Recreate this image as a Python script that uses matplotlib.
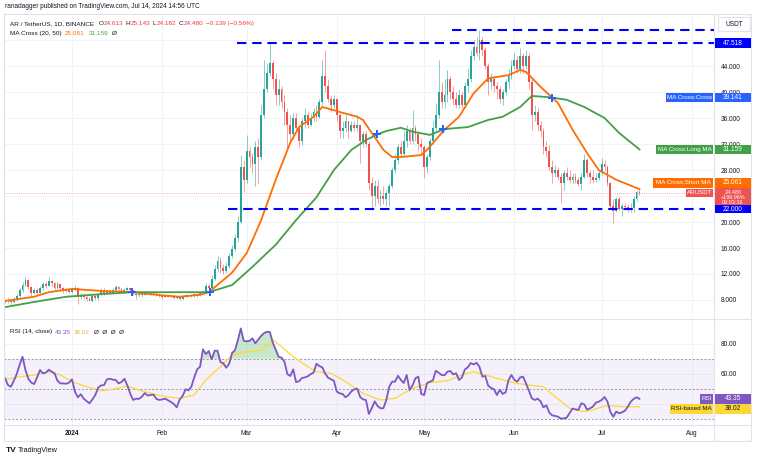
import numpy as np
import matplotlib
matplotlib.use("Agg")
import matplotlib.pyplot as plt
import matplotlib.dates as mdates
from matplotlib.patches import Rectangle
from matplotlib.lines import Line2D
from matplotlib.transforms import IdentityTransform

plt.rcParams["font.family"] = ["Liberation Sans", "DejaVu Sans"]

W, H = 757, 459
START = np.datetime64("2023-12-10")   # day 0

# ----------------------------------------------------------------------
# Daily candles, Dec 9 2023 (day -1) .. Jul 14 2024 (day 217)
# ----------------------------------------------------------------------
first_open = 7.7
close = [
    7.9, 8.0, 7.7, 8.1, 8.6, 9.6, 10.3, 11.0, 10.0, 9.0,
    9.5, 9.1, 9.8, 10.4, 10.2, 10.9, 10.6, 9.9, 10.4, 9.8,
    9.4, 9.6, 9.3, 9.7, 9.8, 8.5, 8.8, 8.4, 8.2, 7.9,
    8.6, 8.3, 8.9, 9.4, 9.0, 9.3, 9.1, 9.6, 10.0, 9.7,
    9.3, 9.6, 9.8, 9.5, 8.9, 8.7, 8.9, 8.8, 9.1, 9.0,
    8.9, 9.0, 8.8, 8.6, 8.5, 8.6, 8.5, 8.4, 8.3, 8.4,
    8.2, 8.5, 8.7, 8.6, 8.7, 8.9, 8.7, 9.0, 9.3, 10.2,
    9.9, 11.2, 12.8, 14.0, 13.0, 12.5, 13.2, 14.8, 15.8, 17.6,
    20.0, 28.5, 26.5, 31.0, 30.0, 29.0, 31.5, 30.0, 36.5, 40.5,
    43.0, 44.5, 42.0, 39.5, 40.5, 38.5, 37.0, 35.0, 33.5, 36.0,
    34.5, 32.5, 35.5, 36.5, 35.0, 36.0, 37.0, 36.2, 38.5, 42.5,
    41.0, 39.0, 38.0, 39.0, 36.5, 34.0, 34.5, 35.5, 34.0, 35.0,
    34.5, 35.0, 32.5, 33.5, 32.0, 26.0, 24.0, 25.5, 23.5, 24.0,
    23.5, 24.5, 25.5, 28.0, 29.5, 31.5, 30.5, 32.5, 34.0, 32.5,
    34.5, 33.5, 32.0, 31.5, 28.5, 30.0, 32.5, 34.5, 36.5, 40.0,
    38.5, 39.5, 42.0, 40.0, 39.0, 38.0, 39.5, 38.0, 41.0, 42.0,
    45.5, 47.0, 46.0, 48.0, 46.5, 44.0, 41.5, 42.0, 41.0, 40.5,
    39.0, 40.0, 41.5, 42.5, 44.0, 45.0, 43.5, 45.5, 44.0, 45.5,
    41.5, 36.5, 37.0, 35.0, 34.0, 31.5, 31.0, 28.5, 27.5, 28.0,
    27.0, 26.0, 27.5, 27.0, 26.5, 27.0, 26.5, 25.8, 27.0, 29.5,
    27.5, 27.0, 26.5, 26.8, 27.5, 29.0, 28.5, 26.0, 22.5, 21.7,
    23.5, 22.0, 22.5, 22.3, 22.0, 22.2, 23.5, 24.613, 24.48,
]
high = [
    8.2, 8.3, 8.1, 8.4, 8.9, 9.9, 10.8, 11.6, 11.2, 10.1,
    9.9, 9.8, 10.1, 10.7, 10.8, 11.5, 11.1, 10.8, 10.7, 10.5,
    10.0, 9.9, 9.8, 9.9, 10.3, 10.0, 9.0, 9.0, 8.6, 8.4,
    8.8, 8.9, 9.1, 9.8, 9.9, 9.5, 9.6, 9.9, 10.3, 10.2,
    9.9, 9.8, 10.0, 9.9, 9.6, 9.0, 9.1, 9.0, 9.3, 9.2,
    9.2, 9.1, 9.2, 9.0, 8.7, 8.8, 8.7, 8.6, 8.6, 8.5,
    8.5, 8.7, 8.9, 8.8, 8.9, 9.1, 9.1, 9.2, 9.6, 10.6,
    10.5, 11.8, 13.4, 14.8, 14.6, 13.6, 13.8, 15.3, 16.5, 18.2,
    21.0, 30.3, 29.5, 33.4, 31.5, 30.6, 32.5, 33.0, 38.0, 44.9,
    44.5, 47.5, 45.0, 43.0, 42.0, 41.0, 39.5, 37.5, 36.5, 36.8,
    36.8, 35.0, 36.0, 37.5, 37.0, 36.8, 37.5, 38.0, 39.0, 45.0,
    46.5, 42.0, 39.5, 39.5, 39.0, 36.8, 35.5, 36.5, 35.5, 35.5,
    35.5, 36.5, 35.0, 34.0, 34.0, 32.5, 27.0, 26.5, 26.5, 25.0,
    25.5, 25.0, 26.0, 28.5, 30.5, 32.0, 32.5, 34.0, 35.0, 34.5,
    37.2, 35.0, 34.0, 33.0, 31.8, 30.5, 33.0, 35.5, 38.3, 44.9,
    41.5, 42.0, 43.4, 42.5, 41.0, 40.0, 40.5, 40.0, 41.5, 43.5,
    46.5, 48.0, 48.5, 49.5, 48.5, 47.0, 44.5, 43.0, 42.5, 41.5,
    41.0, 40.5, 42.0, 43.5, 45.0, 46.0, 45.5, 46.8, 46.0, 46.5,
    46.0, 42.0, 38.0, 37.7, 35.5, 34.5, 32.5, 31.8, 29.5, 28.8,
    28.5, 27.5, 28.0, 28.5, 28.0, 27.5, 27.5, 27.0, 27.5, 30.5,
    29.8, 28.0, 28.0, 27.5, 28.0, 29.8, 29.5, 28.8, 26.2, 23.5,
    23.8, 23.8, 23.0, 23.0, 22.8, 23.0, 24.0, 25.0, 25.143,
]
low = [
    7.6, 7.6, 7.3, 7.6, 7.9, 8.5, 9.3, 10.1, 9.7, 8.6,
    8.9, 8.8, 9.0, 9.6, 9.9, 10.1, 10.2, 9.6, 9.7, 9.6,
    9.0, 9.2, 9.1, 9.1, 9.4, 7.4, 8.2, 8.1, 7.9, 7.8,
    7.7, 8.0, 8.0, 8.8, 8.7, 8.9, 8.9, 9.0, 9.4, 9.4,
    9.1, 9.1, 9.4, 9.3, 8.7, 8.2, 8.5, 8.5, 8.7, 8.8,
    8.7, 8.7, 8.6, 8.5, 8.2, 8.4, 8.4, 8.3, 8.1, 8.1,
    8.0, 8.1, 8.4, 8.5, 8.5, 8.5, 8.5, 8.6, 8.9, 9.2,
    9.5, 9.8, 11.0, 12.3, 12.2, 12.0, 12.1, 13.0, 14.5, 15.5,
    17.0, 19.8, 24.6, 26.0, 28.5, 27.5, 25.5, 26.0, 29.5, 36.0,
    40.0, 42.5, 40.5, 38.0, 38.0, 37.5, 35.0, 31.4, 32.5, 32.8,
    33.8, 31.5, 31.8, 34.5, 34.5, 34.8, 35.5, 35.5, 36.0, 38.0,
    40.0, 38.5, 37.0, 37.5, 35.5, 33.0, 33.0, 33.8, 33.0, 33.8,
    34.0, 34.0, 29.1, 31.5, 31.5, 25.0, 21.8, 22.5, 23.0, 22.5,
    22.8, 22.5, 22.5, 25.2, 27.5, 29.0, 30.0, 30.0, 31.5, 32.0,
    32.0, 32.5, 31.0, 30.5, 26.8, 27.5, 29.5, 32.0, 34.0, 36.0,
    37.5, 37.5, 38.5, 39.0, 38.0, 37.5, 37.5, 37.5, 37.5, 40.0,
    41.5, 45.0, 45.5, 45.0, 45.5, 43.5, 39.5, 40.5, 40.0, 39.0,
    38.3, 38.0, 39.5, 40.5, 42.0, 43.5, 43.0, 43.0, 43.0, 43.5,
    40.5, 34.2, 35.5, 34.0, 33.1, 30.5, 30.0, 28.0, 26.0, 27.0,
    26.5, 23.0, 25.0, 26.5, 26.0, 25.8, 26.0, 25.5, 25.0, 26.8,
    27.0, 26.0, 26.0, 26.2, 26.5, 27.3, 27.8, 25.5, 22.2, 19.8,
    21.5, 21.8, 21.0, 21.8, 21.5, 21.6, 21.5, 23.2, 24.182,
]
rsi = [
    57.0, 52.5, 51.4, 55.4, 59.8, 66.0, 71.3, 62.5, 56.7, 54.1,
    53.2, 57.6, 62.5, 60.3, 60.7, 62.7, 61.4, 60.3, 55.4, 53.6,
    53.6, 53.4, 54.1, 56.3, 48.1, 44.4, 46.4, 43.5, 41.9, 40.4,
    43.0, 45.9, 50.8, 52.3, 52.5, 56.3, 56.7, 56.1, 55.9, 53.6,
    54.5, 56.7, 52.3, 46.8, 42.6, 43.5, 43.3, 44.8, 47.2, 45.5,
    45.9, 46.1, 43.3, 42.6, 43.0, 43.5, 42.4, 41.3, 39.9, 37.7,
    43.0, 45.2, 49.7, 49.0, 51.4, 57.6, 62.9, 64.7, 76.2, 73.1,
    75.1, 69.6, 75.3, 75.3, 67.8, 66.9, 64.0, 66.7, 73.8, 75.7,
    82.4, 90.1, 81.9, 81.5, 81.9, 83.5, 80.2, 82.8, 85.2, 87.0,
    87.9, 87.7, 80.6, 76.0, 71.3, 70.7, 68.0, 59.8, 58.5, 62.9,
    54.5, 55.0, 57.2, 57.6, 58.3, 59.8, 60.7, 66.7, 65.1, 64.3,
    60.1, 57.4, 56.3, 55.4, 48.1, 47.0, 46.6, 44.4, 45.9, 48.3,
    49.7, 50.1, 44.6, 43.0, 42.6, 33.3, 37.1, 41.7, 38.6, 37.1,
    37.1, 42.6, 51.4, 54.8, 54.8, 58.7, 55.9, 53.9, 59.2, 49.2,
    52.3, 57.0, 58.1, 46.6, 45.9, 53.9, 54.8, 55.6, 62.0, 60.7,
    59.2, 59.0, 61.4, 61.8, 59.6, 60.3, 55.9, 57.6, 62.9, 64.3,
    67.1, 66.2, 67.3, 64.7, 58.1, 58.5, 52.1, 50.6, 49.7, 45.9,
    49.4, 46.6, 47.7, 55.9, 59.2, 55.9, 54.8, 57.6, 58.1, 53.6,
    48.8, 43.7, 42.6, 43.5, 41.7, 37.7, 39.1, 34.2, 32.4, 32.0,
    31.5, 30.2, 30.4, 30.9, 34.0, 36.9, 36.4, 36.0, 40.4, 39.7,
    36.2, 37.1, 38.2, 40.8, 41.5, 42.6, 44.6, 41.5, 34.6, 31.5,
    34.9, 33.8, 34.4, 35.5, 38.2, 41.5, 43.3, 44.4, 43.35,
]

# moving averages (day offsets from Dec 10 2023)
ma20_day = [-1, 9, 14, 22, 32, 43, 51, 59, 66, 69, 77, 82, 84, 87, 92, 97, 100,
            105, 108, 112, 115, 120, 122, 125, 129, 132, 135, 142, 144, 150, 155,
            160, 165, 172, 176, 178, 183, 189, 194, 199, 203, 209, 217]
ma20_val = [7.85, 8.5, 9.2, 9.7, 9.4, 9.2, 8.8, 8.5, 8.8, 9.2, 12.2, 15.2, 17.2,
            20.3, 26.5, 32.2, 34.6, 36.2, 37.7, 37.2, 36.8, 36.2, 35.7, 33.7, 31.1,
            30.0, 30.0, 30.3, 31.1, 34.2, 36.2, 39.8, 42.1, 42.6, 43.4, 43.1, 40.8,
            38.3, 34.2, 30.6, 28.0, 26.5, 25.061]
ma50_day = [-1, 9, 20, 32, 43, 51, 62, 69, 77, 84, 92, 99, 106, 112, 118, 123,
            127, 130, 135, 139, 145, 150, 158, 165, 170, 176, 180, 186, 192, 198,
            205, 210, 217]
ma50_val = [6.9, 7.7, 8.5, 8.9, 9.2, 9.2, 9.2, 9.2, 10.3, 13.1, 16.5, 20.3, 23.8,
            28.0, 31.1, 32.6, 33.5, 34.0, 34.5, 33.9, 33.4, 34.3, 34.6, 35.7, 36.2,
            37.7, 39.4, 39.2, 38.8, 37.7, 36.0, 33.7, 31.159]
cross_day = [42.6, 69.4, 126.8, 149.5, 186.8]
cross_val = [9.2, 9.2, 33.5, 34.3, 39.1]

rsima_day = [-1, 3, 9, 14, 18, 22, 27, 32, 36, 41, 45, 50, 54, 59, 64, 68, 73, 77,
             82, 87, 91, 94, 98, 103, 106, 111, 116, 122, 128, 133, 139, 145, 151,
             156, 160, 164, 170, 175, 179, 184, 188, 193, 198, 201, 205, 208, 211, 217]
rsima_val = [56.3, 57.6, 59.2, 61.4, 59.2, 54.8, 51.4, 48.8, 49.7, 51.9, 49.2, 46.6,
             44.8, 43.7, 45.9, 55.9, 64.7, 72.4, 74.6, 75.7, 82.4, 78.0, 71.3, 64.7,
             61.4, 60.3, 54.8, 47.0, 42.6, 43.7, 50.3, 54.1, 55.4, 59.2, 61.4, 59.2,
             55.9, 53.6, 52.5, 51.4, 44.8, 37.1, 34.9, 36.0, 38.6, 38.6, 38.2, 38.02]

# horizontal levels drawn on the chart: (price, first day, last day)
levels = [(49.5, 152.6, 243), (47.518, 78.7, 243), (22.0, 75.6, 239.5)]
LAST = 24.48

month_ticks = ["2024-01-01", "2024-02-01", "2024-03-01", "2024-04-01",
               "2024-05-01", "2024-06-01", "2024-07-01", "2024-08-01"]
month_labels = ["2024", "Feb", "Mar", "Apr", "May", "Jun", "Jul", "Aug"]
price_ticks = [8, 12, 16, 20, 24, 28, 32, 36, 40, 44, 48]
price_hidden = [24, 48]          # covered by the scale tags
rsi_ticks = [40, 60, 80]
rsi_hidden = [40]

# colours
UP, DOWN = "#26a69a", "#ef5350"
C_MA20, C_MA50, C_CROSS = "#ff6d00", "#43a047", "#2962ff"
C_LVL = "#0000ff"
C_RSI, C_RSIMA = "#7e57c2", "#fdd835"
C_TXT, C_BORDER, C_GRID = "#131722", "#e0e3eb", "#f0f3fa"

# ----------------------------------------------------------------------
fig = plt.figure(figsize=(W / 100, H / 100), dpi=100)
fig.patch.set_facecolor("white")
ID = IdentityTransform()


def dnum(d):
    return mdates.date2num(START) + np.asarray(d, dtype=float)


ax = fig.add_axes([4 / W, 1 - 318 / H, 710 / W, 303 / H])
axr = fig.add_axes([4 / W, 1 - 425 / H, 710 / W, 105 / H], sharex=ax)
for a in (ax, axr):
    a.set_facecolor("white")
    for s in a.spines.values():
        s.set_visible(False)

days = np.arange(-1, len(close) - 1)
x = dnum(days)
c = np.array(close)
o = np.r_[first_open, c[:-1]]
h = np.maximum(np.array(high), np.maximum(o, c))
l = np.minimum(np.array(low), np.minimum(o, c))
up = c >= o

wick = [(0.15, 0.65, 0.60, 0.55) if u else (0.94, 0.33, 0.31, 0.55) for u in up]
ax.vlines(x, l, h, colors=wick, lw=0.7, zorder=3)
ax.bar(x, np.maximum(np.abs(c - o), 0.08), bottom=np.minimum(o, c), width=0.62,
       color=[UP if u else DOWN for u in up], lw=0, zorder=4)

ax.plot(dnum(ma20_day), ma20_val, color=C_MA20, lw=1.3, zorder=5)
ax.plot(dnum(ma50_day), ma50_val, color=C_MA50, lw=1.3, zorder=5)
ax.plot(dnum(cross_day), cross_val, "P", color=C_CROSS, ms=5.5, mew=0, zorder=6)

for val, d0, d1 in levels:
    ax.hlines(val, dnum(d0), dnum(d1), color=C_LVL, lw=1.5,
              linestyles=(0, (4.5, 2.8)), zorder=5)
ax.axhline(LAST, color=DOWN, lw=0.6, ls=(0, (1, 1.5)), alpha=0.6, zorder=2)

ax.set_xlim(dnum(-1.37), dnum(242.6))
ax.set_ylim(5.23, 51.85)
ax.yaxis.tick_right()
ax.set_yticks(price_ticks)
ax.set_yticklabels(["" if t in price_hidden else f"{t:.3f}" for t in price_ticks])
ax.tick_params(axis="y", length=0, pad=5, labelsize=4.7, labelcolor=C_TXT)
ax.tick_params(axis="x", bottom=False, labelbottom=False)
ax.grid(True, color=C_GRID, lw=0.7, zorder=0)
ax.set_axisbelow(True)

# ---------------- RSI panel ----------------
r = np.array(rsi)
axr.axhspan(30, 70, color=C_RSI, alpha=0.08, lw=0, zorder=1)
for lv in (70, 50, 30):
    axr.axhline(lv, color="#9598a1", lw=0.7, ls=(0, (2, 2)), zorder=2)
axr.fill_between(x, r, 70, where=r >= 70, interpolate=True,
                 color="#66bb6a", alpha=0.35, lw=0, zorder=2)
axr.plot(dnum(rsima_day), rsima_val, color=C_RSIMA, lw=0.9, zorder=3)
axr.plot(x, r, color=C_RSI, lw=1.3, zorder=4)
axr.set_ylim(26.0, 95.7)
axr.yaxis.tick_right()
axr.set_yticks(rsi_ticks)
axr.set_yticklabels(["" if t in rsi_hidden else f"{t:.2f}" for t in rsi_ticks])
axr.tick_params(axis="y", length=0, pad=5, labelsize=4.7, labelcolor=C_TXT)
axr.set_xticks(dnum([(np.datetime64(m) - START).astype(int) for m in month_ticks]))
axr.set_xticklabels(month_labels)
axr.tick_params(axis="x", length=0, pad=3.5, labelsize=4.7, labelcolor=C_TXT)
axr.get_xticklabels()[0].set_fontweight("bold")
axr.grid(True, color=C_GRID, lw=0.7, zorder=0)
axr.set_axisbelow(True)


# ---------------- frame lines ----------------
def hline_px(y, x0=4, x1=751):
    fig.add_artist(Line2D([x0, x1], [H - y, H - y], transform=ID, color=C_BORDER, lw=0.8, zorder=15))


def vline_px(xp, y0=14, y1=441):
    fig.add_artist(Line2D([xp, xp], [H - y0, H - y1], transform=ID, color=C_BORDER, lw=0.8, zorder=15))


for yy in (14, 319, 425, 441):
    hline_px(yy)
for xx in (4, 714, 751):
    vline_px(xx)


# ---------------- scale tags ----------------
def ypix(axis, val):
    return axis.transData.transform((axis.get_xlim()[0], val))[1]


def tag_right(yd, text, fc, tc="white", hh=9.5, size=4.7):
    fig.add_artist(Rectangle((715, yd - hh / 2), 36, hh, transform=ID,
                             facecolor=fc, edgecolor="none", zorder=20))
    fig.text(733, yd, text, transform=ID, ha="center", va="center",
             color=tc, fontsize=size, zorder=21)


def tag_left(yd, text, fc, x0, tc="white", hh=9.5):
    fig.add_artist(Rectangle((x0, yd - hh / 2), 713 - x0, hh, transform=ID,
                             facecolor=fc, edgecolor="none", zorder=20))
    fig.text((x0 + 713) / 2, yd, text, transform=ID, ha="center", va="center",
             color=tc, fontsize=4.5, zorder=21)


tag_right(ypix(ax, 47.518), "47.518", C_LVL)
yd = ypix(ax, 39.141)
tag_right(yd, "39.141", C_CROSS)
tag_left(yd, "MA Cross:Cross", C_CROSS, 666)
yd = ypix(ax, 31.159)
tag_right(yd, "31.159", C_MA50)
tag_left(yd, "MA Cross:Long MA", C_MA50, 656)

# last price tag (three lines) sits on its price; short-MA tag is pushed up above it
yl = ypix(ax, LAST)
y_ma20 = max(ypix(ax, 25.061), yl + 10)
tag_right(y_ma20, "25.061", C_MA20)
tag_left(y_ma20, "MA Cross:Short MA", C_MA20, 653)

fig.add_artist(Rectangle((715, yl - 13.6), 36, 18.6, transform=ID,
                         facecolor=DOWN, edgecolor="none", zorder=20))
for k, s in enumerate(["24.480", "+199.96%", "09:03:36"]):
    fig.text(733, yl - k * 5.0, s, transform=ID, ha="center", va="center",
             color="white", fontsize=4.0, zorder=21)
tag_left(yl, "ARUSDT", DOWN, 686, hh=8.5)
tag_right(ypix(ax, 22.0), "22.000", C_LVL, hh=8.0)

y_rsi = ypix(axr, 43.35)
tag_right(y_rsi, "43.35", C_RSI)
tag_left(y_rsi, "RSI", C_RSI, 700)
y_rma = min(ypix(axr, 38.02), y_rsi - 10)
tag_right(y_rma, "38.02", C_RSIMA, tc=C_TXT)
tag_left(y_rma, "RSI-based MA", C_RSIMA, 670, tc=C_TXT)

# USDT box
fig.add_artist(Rectangle((718, H - 31), 32, 14, transform=ID, facecolor="white",
                         edgecolor=C_BORDER, lw=0.8, zorder=20))
fig.text(734, H - 24, "USDT", transform=ID, ha="center", va="center",
         color=C_TXT, fontsize=4.7, zorder=21)

# ---------------- header texts ----------------
renderer = fig.canvas.get_renderer()


def chain(x0, ytop, parts, size=4.6):
    xx = x0
    for s, col, gap in parts:
        t = fig.text(xx, H - ytop, s, transform=ID, ha="left", va="center",
                     color=col, fontsize=size, zorder=21)
        xx = t.get_window_extent(renderer=renderer).x1 + gap


RED = "#f23645"
chain(5, 7, [("ranadagger published on TradingView.com, Jul 14, 2024 14:56 UTC", C_TXT, 0)], size=4.7)
chain(10, 23.5, [("AR / TetherUS, 1D, BINANCE", C_TXT, 4.5), ("O", C_TXT, 0.3),
                 ("24.613", RED, 2.5), ("H", C_TXT, 0.3), ("25.143", RED, 2.5),
                 ("L", C_TXT, 0.3), ("24.182", RED, 2.5), ("C", C_TXT, 0.3),
                 ("24.480", RED, 3), ("\u22120.139 (\u22120.56%)", RED, 0)])
chain(10, 33.5, [("MA Cross (20, 50)", C_TXT, 3.5), ("25.061", C_MA20, 3.5),
                 ("31.159", C_MA50, 3.5), ("\u00d8", C_TXT, 0)])
chain(10, 332, [("RSI (14, close)", C_TXT, 3), ("43.35", C_RSI, 3),
                ("38.02", "#e2b93b", 4), ("\u00d8  \u00d8  \u00d8  \u00d8", C_TXT, 0)])

# footer logo
fig.text(6, H - 450, "TV", transform=ID, ha="left", va="center", color=C_TXT,
         fontsize=6, fontweight="bold")
fig.text(18, H - 450, "TradingView", transform=ID, ha="left", va="center",
         color=C_TXT, fontsize=5.2)

fig.savefig("out.png", dpi=100, facecolor="white")
